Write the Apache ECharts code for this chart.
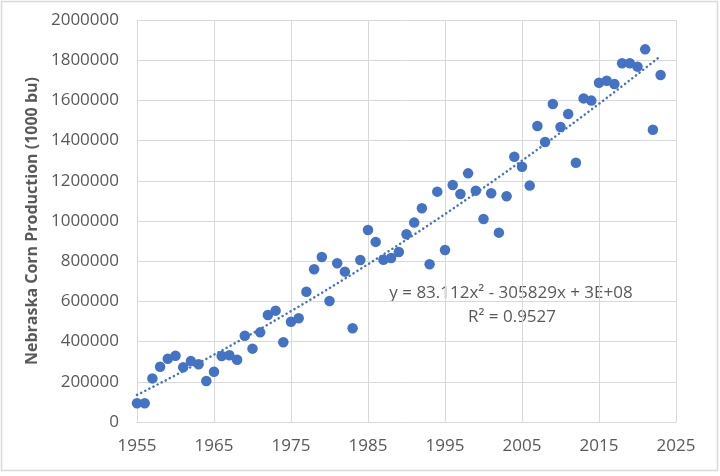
<!DOCTYPE html>
<html>
<head>
<meta charset="utf-8">
<script src="https://cdn.jsdelivr.net/npm/echarts@6/dist/echarts.min.js"></script>
<style>
html,body{margin:0;padding:0;background:#fff;}
#chart{width:720px;height:476px;}
</style>
</head>
<body>
<div id="chart"></div>
<script>
var years = [1955,1956,1957,1958,1959,1960,1961,1962,1963,1964,1965,1966,1967,1968,1969,1970,1971,1972,1973,1974,1975,1976,1977,1978,1979,1980,1981,1982,1983,1984,1985,1986,1987,1988,1989,1990,1991,1992,1993,1994,1995,1996,1997,1998,1999,2000,2001,2002,2003,2004,2005,2006,2007,2008,2009,2010,2011,2012,2013,2014,2015,2016,2017,2018,2019,2020,2021,2022,2023];
var production = [93000,93000,217000,275000,315000,330000,272000,303000,287000,204000,250000,328000,332000,310000,429000,365000,446000,532000,554000,397000,499000,516000,648000,760000,821000,602000,790000,748000,466000,806000,955000,896000,807000,816000,846000,934000,992000,1063000,785000,1146000,856000,1179000,1134000,1237000,1151000,1010000,1138000,942000,1123000,1320000,1270000,1176000,1473000,1393000,1582000,1468000,1532000,1290000,1610000,1599000,1688000,1698000,1682000,1785000,1785000,1768000,1854000,1454000,1726000];
var yTitle = 'Nebraska Corn Production (1000 bu)';
var eqText = 'y = 83.112x\u00B2 - 305829x + 3E+08';
var r2Text = 'R\u00B2 = 0.9527';

// quadratic least-squares fit (centered for numeric stability)
function quadFit(xs, ys) {
  var n = xs.length, mx = 0;
  for (var i = 0; i < n; i++) mx += xs[i];
  mx /= n;
  var S = [0,0,0,0,0], T = [0,0,0];
  for (var i = 0; i < n; i++) {
    var t = xs[i] - mx, p = 1;
    for (var k = 0; k < 5; k++) { S[k] += p; p *= t; }
    T[0] += ys[i]; T[1] += ys[i] * t; T[2] += ys[i] * t * t;
  }
  var A = [[S[0],S[1],S[2],T[0]],[S[1],S[2],S[3],T[1]],[S[2],S[3],S[4],T[2]]];
  for (var c = 0; c < 3; c++) {
    for (var r = c + 1; r < 3; r++) {
      var f = A[r][c] / A[c][c];
      for (var k = c; k < 4; k++) A[r][k] -= f * A[c][k];
    }
  }
  var b = [0,0,0];
  for (var r = 2; r >= 0; r--) {
    var s = A[r][3];
    for (var k = r + 1; k < 3; k++) s -= A[r][k] * b[k];
    b[r] = s / A[r][r];
  }
  return function (x) { var t = x - mx; return b[0] + b[1] * t + b[2] * t * t; };
}
var fit = quadFit(years, production);
var trend = years.map(function (y) { return [y, fit(y)]; });
var points = years.map(function (y, i) { return [y, production[i]]; });

var font = '"Open Sans", "Liberation Sans", Arial, sans-serif';
var plain = function (v) { return String(v); };
var chart = echarts.init(document.getElementById('chart'), null, {renderer: 'canvas'});
chart.setOption({
  animation: false,
  backgroundColor: '#ffffff',
  grid: {left: 137, right: 44, top: 20, bottom: 54, containLabel: false},
  xAxis: {
    type: 'value', min: 1955, max: 2025, interval: 10,
    axisLine: {show: true, lineStyle: {color: '#d9d9d9', width: 1}},
    axisTick: {show: false},
    splitLine: {show: true, lineStyle: {color: '#d9d9d9', width: 1}},
    axisLabel: {color: '#595959', fontSize: 17, fontFamily: font, margin: 16, formatter: plain, showMaxLabel: true, showMinLabel: true}
  },
  yAxis: {
    type: 'value', min: 0, max: 2000000, interval: 200000,
    name: yTitle, nameLocation: 'middle', nameGap: 88, nameRotate: 90,
    nameTextStyle: {color: '#595959', fontSize: 16, fontWeight: 'bold', fontFamily: font},
    axisLine: {show: true, lineStyle: {color: '#d9d9d9', width: 1}},
    axisTick: {show: false},
    splitLine: {show: true, lineStyle: {color: '#d9d9d9', width: 1}},
    axisLabel: {color: '#595959', fontSize: 17, fontFamily: font, margin: 18, formatter: plain}
  },
  series: [
    {
      type: 'scatter', data: points, symbol: 'circle', symbolSize: 10.5,
      itemStyle: {color: '#4472c4', opacity: 1}, z: 2
    },
    {
      type: 'line', data: trend, showSymbol: false, smooth: false,
      lineStyle: {color: '#4472c4', width: 2.5, type: [0.1, 4.5], cap: 'round', opacity: 1},
      z: 3, silent: true
    }
  ],
  graphic: [
    {type: 'rect', shape: {x: 1.5, y: 1.5, width: 716, height: 469}, style: {fill: 'none', stroke: '#d9d9d9', lineWidth: 1.5}, silent: true},
    {type: 'text', x: 511, y: 293, style: {text: eqText, fill: '#595959', font: '17px ' + font, textAlign: 'center', textVerticalAlign: 'middle'}},
    {type: 'text', x: 512, y: 317, style: {text: r2Text, fill: '#595959', font: '17px ' + font, textAlign: 'center', textVerticalAlign: 'middle'}}
  ]
});
</script>
</body>
</html>
